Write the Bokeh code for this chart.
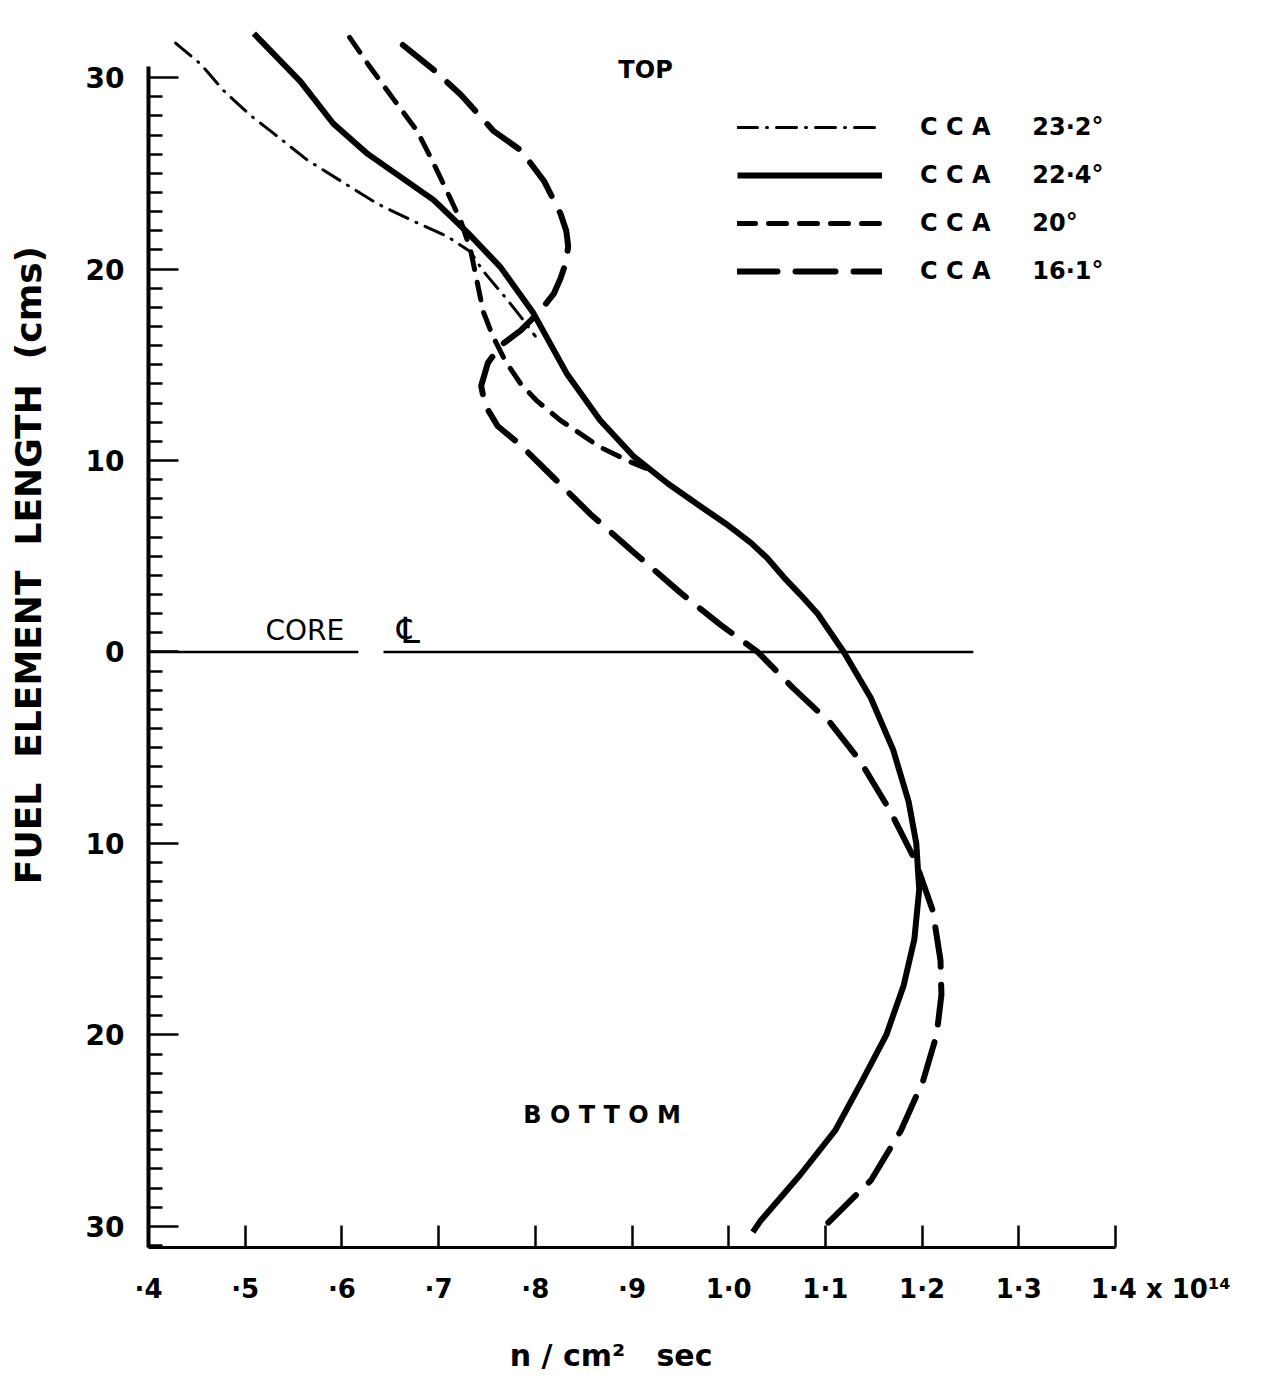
from bokeh.plotting import figure
from bokeh.models import FixedTicker, Label, Legend, LegendItem, Range1d, LinearAxis
from bokeh.embed import file_html
from bokeh.resources import INLINE

NB = "\u00a0"

# ---------------- data ----------------
x_ticks = [0.4, 0.5, 0.6, 0.7, 0.8, 0.9, 1.0, 1.1, 1.2, 1.3, 1.4]
x_tick_labels = ["·4", "·5", "·6", "·7", "·8", "·9", "1·0", "1·1", "1·2", "1·3", "1·4"]
x_scale_note = "x 10¹⁴"
y_ticks = [-30, -20, -10, 0, 10, 20, 30]
y_tick_labels = ["30", "20", "10", "0", "10", "20", "30"]
y_minor = [v for v in range(-31, 31) if v % 10 != 0]

series_names = ["C C A     23·2°", "C C A     22·4°", "C C A     20°", "C C A     16·1°"]

# CCA 23.2 deg (dash-dot)
cca232_flux = [0.428, 0.454, 0.478, 0.506, 0.529, 0.564, 0.602, 0.637, 0.674, 0.709, 0.733, 0.746, 0.771, 0.785, 0.800]
cca232_len = [31.8, 30.7, 29.3, 28.0, 27.1, 25.7, 24.5, 23.4, 22.5, 21.7, 20.9, 19.9, 18.4, 17.5, 16.5]

# CCA 22.4 deg (solid)
cca224_flux = [0.509, 0.557, 0.591, 0.627, 0.661, 0.695, 0.730, 0.764, 0.798, 0.833, 0.867, 0.902, 0.937, 0.971,
               0.997, 1.023, 1.040, 1.057, 1.074, 1.092, 1.119, 1.147, 1.170, 1.186, 1.194, 1.197, 1.192, 1.181,
               1.163, 1.138, 1.110, 1.074, 1.033, 1.025]
cca224_len = [32.3, 29.8, 27.6, 26.0, 24.8, 23.6, 21.9, 20.1, 17.7, 14.5, 12.1, 10.2, 8.8, 7.6,
              6.7, 5.7, 4.9, 3.9, 3.0, 2.0, 0.0, -2.4, -5.1, -7.8, -10.0, -12.4, -15.0, -17.4,
              -20.0, -22.4, -25.0, -27.3, -29.7, -30.3]

# CCA 20 deg (short dash)
cca20_flux = [0.608, 0.627, 0.653, 0.678, 0.695, 0.712, 0.723, 0.733, 0.740, 0.746, 0.756, 0.769, 0.785,
              0.802, 0.826, 0.867, 0.895, 0.914]
cca20_len = [32.1, 30.7, 28.9, 27.2, 25.5, 23.7, 22.5, 21.0, 19.3, 17.8, 16.5, 15.2, 14.0,
             13.1, 12.1, 10.7, 10.0, 9.6]

# CCA 16.1 deg (long dash)
cca161_flux = [0.663, 0.695, 0.723, 0.757, 0.785, 0.809, 0.826, 0.832, 0.834, 0.832, 0.826, 0.819, 0.805, 0.785, 0.764,
               0.751, 0.744, 0.748, 0.761, 0.785, 0.819, 0.857, 0.902, 0.950, 0.992, 1.030, 1.067, 1.105,
               1.136, 1.167, 1.193, 1.211, 1.219, 1.220, 1.215, 1.201, 1.178, 1.147, 1.103]
cca161_len = [31.7, 30.4, 29.1, 27.2, 26.2, 24.6, 22.9, 22.0, 21.2, 20.4, 19.5, 18.7, 17.8, 16.8, 16.0,
              15.1, 13.9, 12.9, 11.8, 10.8, 9.1, 7.2, 5.2, 3.1, 1.4, 0.0, -1.9, -3.7,
              -5.7, -8.3, -10.9, -13.5, -16.1, -17.9, -20.0, -22.4, -25.0, -27.6, -29.8]

# core centre line (y = 0), drawn in two pieces around the symbol
core_line_x0 = [0.400, 0.643]
core_line_x1 = [0.617, 1.253]
core_line_y = [0.0, 0.0]

FONT = "DejaVu Sans"

p = figure(frame_width=967, frame_height=1227,
           x_range=Range1d(0.4, 1.4), y_range=Range1d(-31.10, 32.98),
           output_backend="svg", toolbar_location=None,
           min_border_left=148, min_border_right=150, min_border_top=20, min_border_bottom=130,
           background_fill_color="white", border_fill_color="white")
p.outline_line_color = None
p.grid.visible = False

# x axis
xa = p.xaxis[0]
xa.ticker = FixedTicker(ticks=x_ticks, minor_ticks=[])
overrides = {t: l for t, l in zip(x_ticks, x_tick_labels)}
overrides[x_ticks[-1]] = NB * 10 + x_tick_labels[-1] + NB + x_scale_note.replace(" ", NB)
xa.major_label_overrides = overrides
xa.axis_line_width = 3
xa.axis_line_color = "black"
xa.major_tick_in = 22
xa.major_tick_out = 0
xa.major_tick_line_width = 2.5
xa.major_tick_line_color = "black"
xa.minor_tick_line_color = None
xa.major_label_standoff = 26
xa.major_label_text_font = FONT
xa.major_label_text_font_style = "bold"
xa.major_label_text_font_size = "26px"
xa.major_label_text_color = "black"
xa.axis_label = "n / cm²" + NB * 3 + "sec" + NB * 4
xa.axis_label_text_font = FONT
xa.axis_label_text_font_style = "bold"
xa.axis_label_text_font_size = "30px"
xa.axis_label_text_color = "black"
xa.axis_label_standoff = 31

# y axis
ya = p.yaxis[0]
ya.ticker = FixedTicker(ticks=y_ticks, minor_ticks=y_minor)
ya.major_label_overrides = {t: l for t, l in zip(y_ticks, y_tick_labels)}
ya.bounds = (-31.10, 30.6)
ya.axis_line_width = 4
ya.axis_line_color = "black"
ya.major_tick_in = 30
ya.major_tick_out = 0
ya.major_tick_line_width = 2.5
ya.major_tick_line_color = "black"
ya.minor_tick_in = 14
ya.minor_tick_out = 0
ya.minor_tick_line_width = 2.5
ya.minor_tick_line_color = "black"
ya.major_label_standoff = 24
ya.major_label_text_font = FONT
ya.major_label_text_font_style = "bold"
ya.major_label_text_font_size = "28px"
ya.major_label_text_color = "black"

# extra (invisible) left axis that only carries the vertical title
ya2 = LinearAxis(ticker=FixedTicker(ticks=[]),
                 axis_line_color=None, major_tick_line_color=None, minor_tick_line_color=None,
                 major_label_text_font_size="0px",
                 axis_label=NB * 11 + "FUEL" + NB * 2 + "ELEMENT" + NB * 2 + "LENGTH" + NB * 2 + "(cms)",
                 axis_label_standoff=34,
                 axis_label_text_font=FONT, axis_label_text_font_style="bold",
                 axis_label_text_font_size="36px", axis_label_text_color="black")
p.add_layout(ya2, "left")

# core line
for a, b in zip(core_line_x0, core_line_x1):
    p.line([a, b], core_line_y, line_color="black", line_width=2.5)

r1 = p.line(cca232_flux, cca232_len, line_color="black", line_width=3, line_dash="20 9 1 9", line_cap="round")
r2 = p.line(cca224_flux, cca224_len, line_color="black", line_width=6, line_join="round")
r3 = p.line(cca20_flux, cca20_len, line_color="black", line_width=5, line_dash="18 13", line_cap="round")
r4 = p.line(cca161_flux, cca161_len, line_color="black", line_width=6, line_dash="40 18", line_cap="round")

legend = Legend(items=[LegendItem(label=n, renderers=[r]) for n, r in zip(series_names, [r1, r2, r3, r4])],
                location=(589, 961), glyph_width=145, glyph_height=30, label_height=30, spacing=18,
                padding=0, margin=0, border_line_color=None, background_fill_alpha=0,
                label_standoff=38, label_text_font=FONT, label_text_font_style="bold",
                label_text_font_size="24px", label_text_color="black")
p.add_layout(legend)

def lab(x, y, t, size, style="bold", align="center"):
    p.add_layout(Label(x=x, y=y, text=t, text_font=FONT, text_font_style=style,
                       text_font_size=size, text_align=align, text_baseline="middle",
                       text_color="black"))

lab(0.914, 30.4, "TOP", "24px")
lab(0.869, -24.2, "B O T T O M", "24px")
lab(0.521, 1.1, "CORE", "28px", style="normal", align="left")
lab(0.669, 1.1, "℄", "36px", style="normal")

open("out.html", "w").write(file_html(p, INLINE))
